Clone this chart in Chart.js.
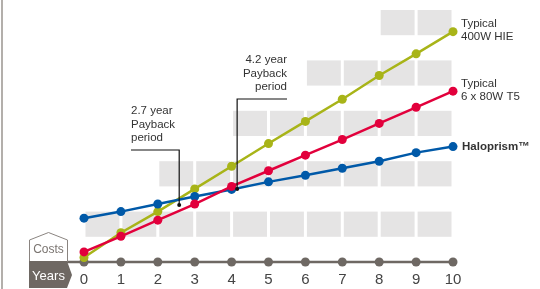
<!DOCTYPE html>
<html>
<head>
<meta charset="utf-8">
<script src="https://cdn.jsdelivr.net/npm/chart.js@4"></script>
<style>
  body{margin:0;background:#fff;}
  #wrap{width:540px;height:289px;position:relative;}
</style>
</head>
<body>
<div id="wrap"><canvas id="c" width="540" height="289"></canvas></div>
<script>
// data
const years = [0,1,2,3,4,5,6,7,8,9,10];
const haloprism = [0.87,1.0,1.15,1.3,1.44,1.59,1.72,1.86,2.0,2.17,2.29];
const t5 = [0.2,0.51,0.83,1.15,1.5,1.81,2.12,2.43,2.75,3.07,3.39];
const hie = [0.09,0.58,1.0,1.45,1.9,2.35,2.79,3.23,3.7,4.13,4.57];
const axisDots = [0,0,0,0,0,0,0,0,0,0,0];

const seriesNames = [["Typical","6 x 80W T5"],["Haloprism™"],["Typical","400W HIE"]];

// payback markers
const paybackYears = [2.58, 4.15];
const paybackCost = [1.13, 1.45];
const paybackText = [["2.7 year","Payback","period"],["4.2 year","Payback","period"]];

// grey background bands (staircase)
const bandFrom = [0,2,4,6,8];
const bandLow = [0.5,1.5,2.5,3.5,4.5];
const bandHigh = [1,2,3,4,5];

const FONT = "'Liberation Sans', Arial, sans-serif";
const RED = "#e2003c", BLUE = "#0059a8", GREEN = "#a8b418", GREY = "#6e6863";

function pts(vals){ return years.map((y,i)=>({x:y, y:vals[i]})); }

function lineSet(label, vals, color){
  return {
    label:label, data:pts(vals), borderColor:color, backgroundColor:color,
    borderWidth:2.5, pointRadius:4.5, pointBorderWidth:0, pointHoverRadius:4.5,
    tension:0, clip:false
  };
}

// draws grey blocks behind the lines
const bandsPlugin = {
  id:"bands",
  beforeDatasetsDraw(chart){
    const {ctx, scales:{x,y}} = chart;
    ctx.save();
    ctx.fillStyle = "#e5e4e4";
    for(let r=0;r<bandFrom.length;r++){
      const top = y.getPixelForValue(bandHigh[r]);
      const bot = y.getPixelForValue(bandLow[r]);
      for(let k=bandFrom[r]; k<years[years.length-1]; k++){
        const x0 = x.getPixelForValue(k)+1.5, x1 = x.getPixelForValue(k+1)-1.5;
        ctx.fillRect(x0, top, x1-x0, bot-top);
      }
    }
    ctx.restore();
  }
};

// labels, payback callouts, Costs/Years badges
const decoPlugin = {
  id:"deco",
  beforeDatasetsDraw(chart){
    const {ctx, scales:{x,y}} = chart;
    const y0 = y.getPixelForValue(0);
    ctx.save();
    // axis line reaching the badge
    ctx.strokeStyle = GREY; ctx.lineWidth = 2.5;
    ctx.beginPath(); ctx.moveTo(31, y0); ctx.lineTo(x.getPixelForValue(0), y0); ctx.stroke();
    ctx.restore();
  },
  afterDatasetsDraw(chart){
    const {ctx, scales:{x,y}} = chart;
    const y0 = y.getPixelForValue(0);
    ctx.save();

    // left rule
    ctx.fillStyle = "#b3afab";
    ctx.fillRect(1, 0, 2, chart.height);

    // Costs badge
    ctx.beginPath();
    ctx.moveTo(29.5, y0); ctx.lineTo(29.5, y0-22); ctx.lineTo(48.5, y0-29.5);
    ctx.lineTo(67.5, y0-22); ctx.lineTo(67.5, y0);
    ctx.fillStyle = "#fff"; ctx.fill();
    ctx.strokeStyle = "#8a8480"; ctx.lineWidth = 1; ctx.stroke();
    ctx.fillStyle = "#7a7470"; ctx.font = "12px " + FONT;
    ctx.textAlign = "center"; ctx.textBaseline = "middle";
    ctx.fillText("Costs", 48.5, y0-12);

    // Years badge
    ctx.beginPath();
    ctx.moveTo(29, y0-1); ctx.lineTo(67, y0-1); ctx.lineTo(72, y0+13);
    ctx.lineTo(67, y0+26); ctx.lineTo(29, y0+26); ctx.closePath();
    ctx.fillStyle = GREY; ctx.fill();
    ctx.fillStyle = "#fff"; ctx.font = "13px " + FONT;
    ctx.fillText("Years", 48.5, y0+14);

    // payback callouts
    ctx.strokeStyle = "#111"; ctx.lineWidth = 1.2; ctx.fillStyle = "#111";
    ctx.font = "11.5px " + FONT; ctx.textBaseline = "middle";
    for(let i=0;i<paybackYears.length;i++){
      const px = x.getPixelForValue(paybackYears[i]);
      const py = y.getPixelForValue(paybackCost[i]);
      const uy = i==0 ? 150 : 99;
      const ex = i==0 ? 131 : 287;
      ctx.beginPath(); ctx.moveTo(px, py); ctx.lineTo(px, uy); ctx.lineTo(ex, uy); ctx.stroke();
      ctx.beginPath(); ctx.arc(px, py, 2, 0, Math.PI*2); ctx.fillStyle="#111"; ctx.fill();
      ctx.fillStyle = "#333";
      ctx.textAlign = i==0 ? "left" : "right";
      paybackText[i].forEach((t,j)=>ctx.fillText(t, ex, uy-39+j*13.5));
    }

    // series names at line ends
    ctx.textAlign = "left";
    ctx.fillStyle = "#333";
    chart.data.datasets.forEach((ds,i)=>{
      if(i>=seriesNames.length) return;
      const last = ds.data[ds.data.length-1];
      const lx = x.getPixelForValue(last.x)+8, ly = y.getPixelForValue(last.y);
      const lines = seriesNames[i];
      if(lines.length==1){
        ctx.font = "bold 11.5px " + FONT;
        ctx.fillText(lines[0], lx+1, ly);
      } else {
        ctx.font = "11.5px " + FONT;
        ctx.fillText(lines[0], lx, ly-7.5);
        ctx.fillText(lines[1], lx, ly+5.5);
      }
    });
    ctx.restore();
  }
};

new Chart(document.getElementById("c"), {
  type:"line",
  data:{
    datasets:[
      lineSet("Typical 6 x 80W T5", t5, RED),
      lineSet("Haloprism", haloprism, BLUE),
      lineSet("Typical 400W HIE", hie, GREEN),
      lineSet("Years", axisDots, GREY)
    ]
  },
  options:{
    responsive:false, animation:false,
    layout:{padding:{left:84, right:87, top:10, bottom:-9}},
    plugins:{legend:{display:false}, tooltip:{enabled:false}},
    scales:{
      x:{
        type:"linear", min:0, max:10,
        grid:{display:false, drawTicks:false}, border:{display:false},
        ticks:{stepSize:1, padding:9, color:"#444", font:{family:FONT, size:15}}
      },
      y:{ display:false, min:0, max:5 }
    }
  },
  plugins:[bandsPlugin, decoPlugin]
});
</script>
</body>
</html>
